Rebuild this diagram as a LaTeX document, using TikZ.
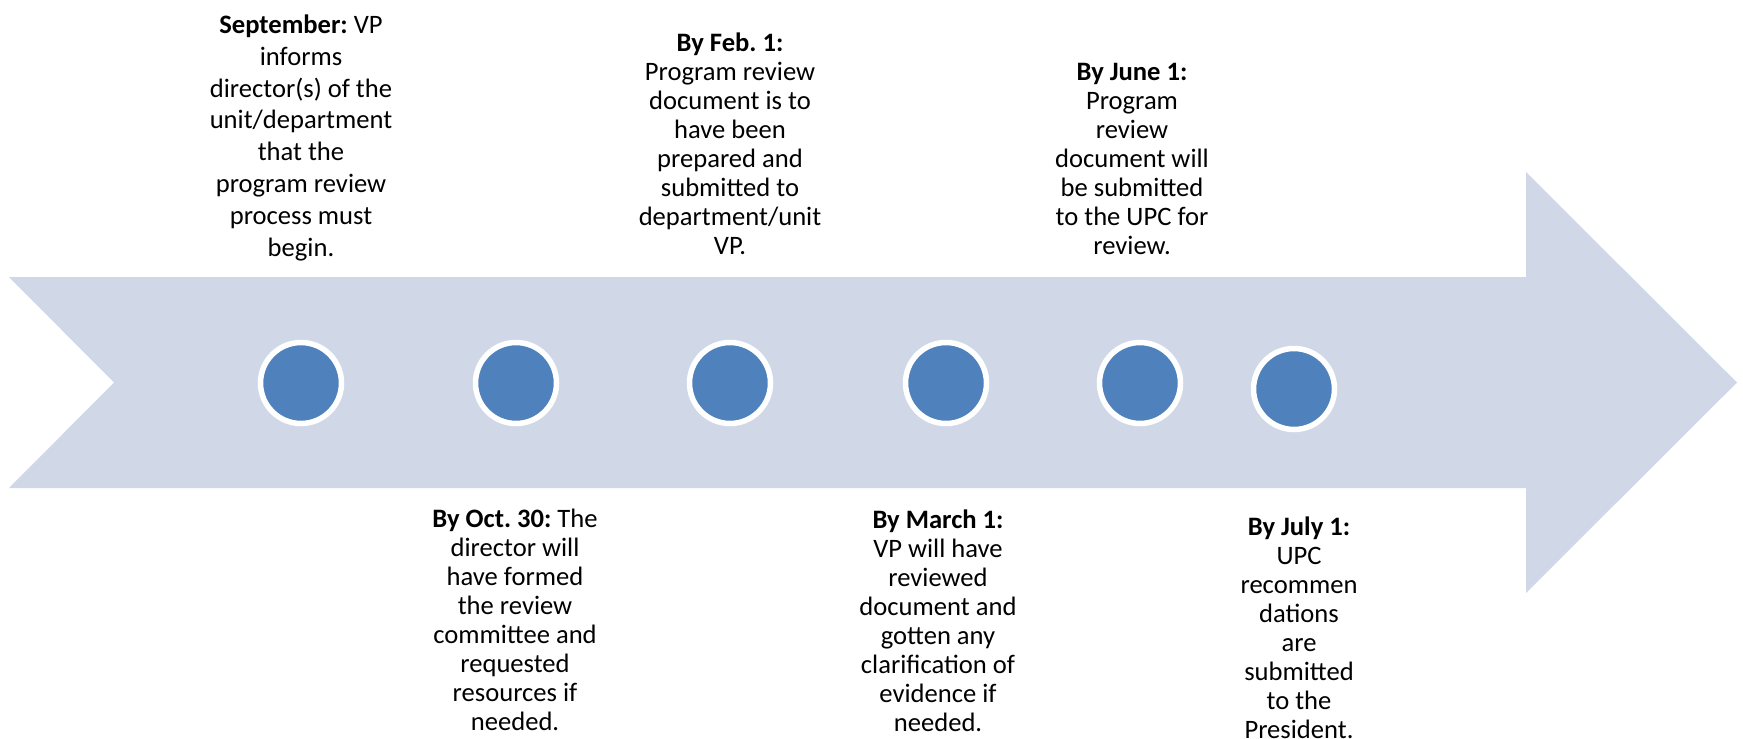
\documentclass[tikz,border=0pt]{standalone}
\usepackage{fontspec}
\setmainfont{Carlito}
\frenchspacing
\usetikzlibrary{positioning}
\definecolor{bandblue}{HTML}{D0D8E8}
\definecolor{dotblue}{HTML}{4F81BD}
\tikzset{
  stepnote/.style={align=center, inner sep=0pt, font=\fontsize{13.3}{14.5}\selectfont},
  stepdot/.style={circle, fill=dotblue, draw=white, line width=2.75pt,
    minimum size=40.5pt, inner sep=0pt},
}
\begin{document}
\begin{tikzpicture}[x=0.5pt, y=-0.5pt]
  \useasboundingbox (0,0) rectangle (1743,738);
  % the big arrow
  \fill[bandblue] (9,277) -- (1526,277) -- (1526,172) -- (1737,382.5)
    -- (1526,593) -- (1526,488) -- (9,488) -- (114,382.5) -- cycle;
  \foreach \x/\y/\name in {301/383/sep, 516/383/oct, 730/383/feb,
      946/383/mar, 1140/383/jun, 1294/389/jul}
    \node[stepdot] (dot-\name) at (\x,\y) {};
  % above the arrow
  \node[stepnote, anchor=south, font=\fontsize{13.3}{15.9}\selectfont] (note-sep) at (301,261)
    {\textbf{September:} VP\\informs\\director(s) of the\\unit/department\\that the\\program review\\process must\\begin.};
  \node[stepnote, anchor=south] (note-feb) at (730,255)
    {\textbf{By Feb. 1:}\\Program review\\document is to\\have been\\prepared and\\submitted to\\department/unit\\VP.};
  \node[stepnote, anchor=south] (note-jun) at (1132,255)
    {\textbf{By June 1:}\\Program\\review\\document will\\be submitted\\to the UPC for\\review.};
  % below the arrow
  \node[stepnote, anchor=north] (note-oct) at (515,509)
    {\textbf{By Oct. 30:} The\\director will\\have formed\\the review\\committee and\\requested\\resources if\\needed.};
  \node[stepnote, anchor=north] (note-mar) at (938,509)
    {\textbf{By March 1:}\\VP will have\\reviewed\\document and\\gotten any\\clarification of\\evidence if\\needed.};
  \node[stepnote, anchor=north] (note-jul) at (1299,516)
    {\textbf{By July 1:}\\UPC\\recommen\\dations\\are\\submitted\\to the\\President.};
\end{tikzpicture}
\end{document}
